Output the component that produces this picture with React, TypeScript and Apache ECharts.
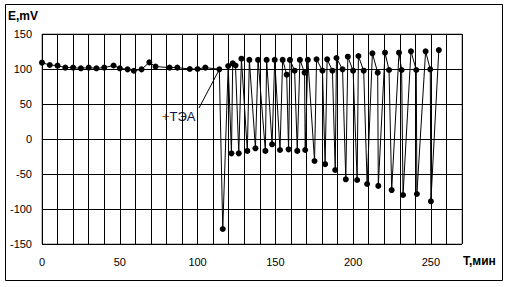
import React, { useEffect, useRef } from "react";
import * as echarts from "echarts";

const times = [
  0, 5, 10, 15, 20, 25, 30, 35, 40, 46, 50, 55, 59, 64, 69, 73, 82, 87, 95, 100, 105, 114,
  116.2, 119.7, 121.8, 122.6, 124.4, 126.5, 128.2, 132, 133.3, 137.2, 138.9, 143.6, 144.4,
  147.9, 149.6, 153, 154.7, 157.3, 158.5, 159.4, 162.4, 164.1, 165.8, 168.8, 169.2, 170.9,
  175.2, 176.5, 180.3, 182, 183.3, 186.7, 188.5, 189.3, 193.2, 195.3, 196.6, 200, 202.6,
  203.4, 206.8, 209, 212.4, 215.8, 216.2, 220.5, 223.1, 224.8, 229.5, 231.2, 232.1, 237.2,
  240.6, 241, 246.6, 249.6, 250, 255.1,
];
const potentials = [
  109, 105.7, 104.8, 102, 102, 101, 102, 101, 102, 105, 101, 99.5, 97.5, 99.5, 109.5, 103.5,
  102, 102, 100, 100, 102, 99.5,
  -128.6, 104.3, -20.5, 108, 105, -20.5, 114.7, -17, 113, -13.3, 113, -17, 113,
  -7.6, 113, -15.7, 113, 91.9, -14.8, 113, 97.6, -17, 113, 94.8, -15.7, 113,
  -31.4, 113.8, 97.6, -36, 113.8, 97.6, -44.3, 115.7, 99.5, -57.6, 117.6, 97.6, -58.6,
  118.6, 97.6, -64.3, 122.4, 94.8, -67, 123.3, 98.6, -72.9, 123.3, 98.6, -80, 125.2,
  98.6, -78.6, 125.2, 99.5, -89, 127,
];
const yTicks = [-150, -100, -50, 0, 50, 100, 150];
const xLabelStep = 50;

export default function App() {
  const ref = useRef<HTMLDivElement>(null);
  useEffect(() => {
    document.body.style.margin = "0";
    const chart = echarts.init(ref.current!, null, { renderer: "svg" });
    const font = "Liberation Sans, Arial, sans-serif";
    chart.setOption({
      animation: false,
      backgroundColor: "#ffffff",
      grid: { left: 42, top: 34, width: 420, height: 210, show: true, borderColor: "#808080", borderWidth: 1 },
      xAxis: {
        type: "value",
        min: 0,
        max: 270,
        interval: 10,
        axisLine: { show: false },
        axisTick: { show: false },
        splitLine: { show: true, lineStyle: { color: "#000", width: 1 } },
        axisLabel: {
          margin: 12,
          color: "#000",
          fontFamily: font,
          fontSize: 11,
          formatter: (v: number) => (v % xLabelStep === 0 && v <= 250 ? String(v) : ""),
        },
      },
      yAxis: {
        type: "value",
        min: yTicks[0],
        max: yTicks[yTicks.length - 1],
        interval: 50,
        axisLine: { show: false },
        axisTick: { show: false },
        splitLine: { show: true, lineStyle: { color: "#000", width: 1 } },
        axisLabel: { margin: 10, color: "#000", fontFamily: font, fontSize: 11 },
      },
      graphic: [
        {
          type: "rect",
          shape: { x: 5.5, y: 4.5, width: 497, height: 276 },
          style: { fill: "none", stroke: "#000", lineWidth: 1 },
          silent: true,
          z: -1,
        },
        {
          type: "text",
          left: 8,
          top: 10,
          style: { text: "E,mV", font: `bold 12px ${font}`, fill: "#000" },
        },
        {
          type: "text",
          left: 463,
          top: 255,
          style: { text: "T,мин", font: `bold 12px ${font}`, fill: "#000" },
        },
        {
          type: "line",
          shape: { x1: 199, y1: 108, x2: 218, y2: 72 },
          style: { stroke: "#000", lineWidth: 1 },
          z: 10,
        },
        {
          type: "text",
          left: 162,
          top: 110,
          style: {
            text: "{p|+}{t|ТЭА}",
            rich: {
              p: { fill: "#b04a00", font: `13px ${font}` },
              t: { fill: "#10104a", font: `13px ${font}` },
            },
          },
        },
      ],
      series: [
        {
          type: "line",
          data: times.map((t, i) => [t, potentials[i]]),
          symbol: "circle",
          symbolSize: 6,
          showSymbol: true,
          lineStyle: { color: "#000", width: 1 },
          itemStyle: { color: "#000" },
        },
      ],
    });
    return () => chart.dispose();
  }, []);
  return <div ref={ref} style={{ width: 510, height: 287 }} />;
}
